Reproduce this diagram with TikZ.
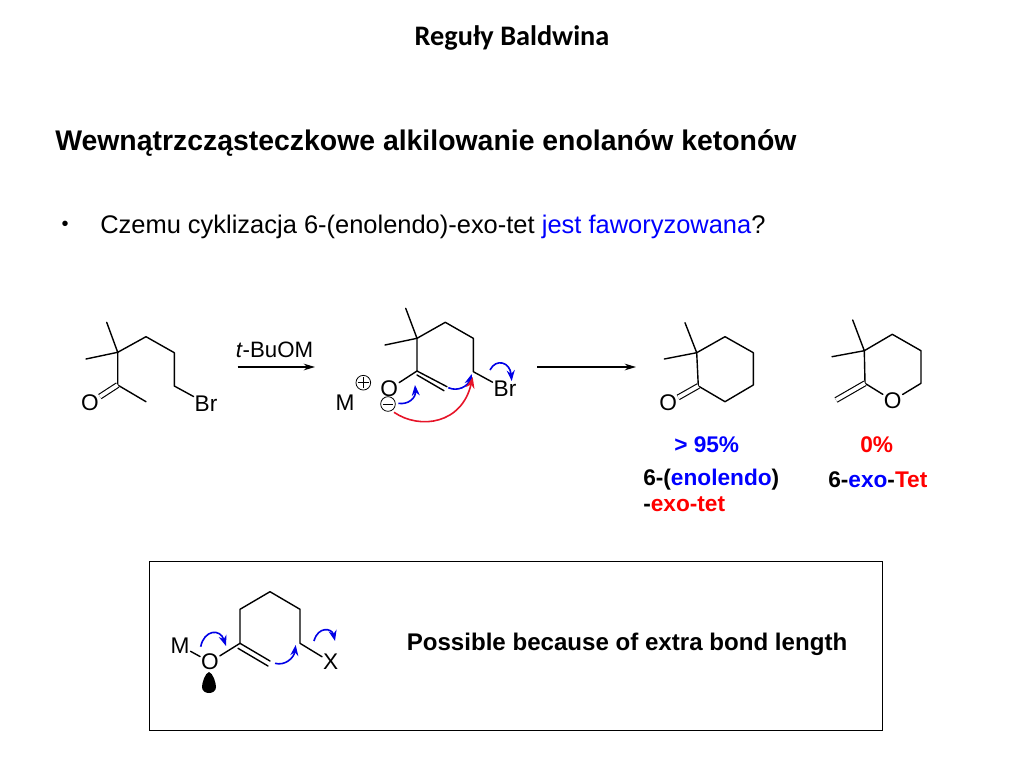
\documentclass[tikz,border=0pt]{standalone}
\usepackage{amsmath,amssymb}
\usepackage{fontspec}
\setmainfont{Liberation Sans}
\newfontfamily\titlefont{Carlito}
\usepackage{tikz}
\usetikzlibrary{arrows.meta}
\definecolor{arrowblue}{RGB}{0,0,230}
\definecolor{arrowred}{RGB}{230,20,40}
\tikzset{
  bond/.style={line width=1.05pt,line join=round,line cap=round},
  dblbond/.style={line width=0.85pt,double,double distance=2.8pt},
  atom/.style={inner sep=0.6pt,font=\fontsize{17}{18}\selectfont},
  rxn/.style={-{Stealth[length=8.5pt,width=5pt]},line width=0.85pt},
  push/.style={-{Stealth[length=8pt,width=6pt]},line width=1.2pt,arrowblue},
  pushred/.style={-{Stealth[length=8.5pt,width=6.5pt]},line width=1.2pt,arrowred},
  plain/.style={inner sep=0pt,font=\fontsize{19.1}{22}\selectfont},
  tag/.style={inner sep=0pt,anchor=west,font=\fontsize{17}{20}\selectfont\bfseries},
  charge/.style={circle,draw,line width=0.6pt,minimum size=11pt,inner sep=0pt},
  sign/.style={line width=0.7pt,shorten >=1.8pt,shorten <=1.8pt}
}
\begin{document}
\begin{tikzpicture}[x=0.75pt,y=-0.75pt]
\useasboundingbox (0,0) rectangle (1024,768);
% headings
\node[inner sep=0pt,font=\titlefont\fontsize{21.2}{24}\selectfont\bfseries] (title) at (512,37.6) {Reguły Baldwina};
\node[inner sep=0pt,anchor=west,font=\fontsize{21.3}{25}\selectfont\bfseries] (heading) at (55,143) {Wewnątrzcząsteczkowe alkilowanie enolanów ketonów};
\node[inner sep=0pt,font=\fontsize{15}{18}\selectfont] (dot) at (65,226) {•};
\node[plain,anchor=west] (question) at (100,227) {Czemu cyklizacja 6-(enolendo)-exo-tet \textcolor{blue}{jest faworyzowana}?};

% starting ketone
\coordinate (a1) at (106.7,322.3);
\coordinate (a2) at (117.7,352.3);
\coordinate (a3) at (86,359);
\coordinate (a4) at (146,336.7);
\coordinate (a5) at (174.3,352.7);
\coordinate (a6) at (174.3,386);
\coordinate (a7) at (117.7,385);
\coordinate (a8) at (146,401.7);
\node[atom] (aO) at (90,403) {O};
\node[atom] (aBr) at (206,403.3) {Br};
\draw[bond] (a1) -- (a2) -- (a3);
\draw[bond] (a2) -- (a4) -- (a5) -- (a6) -- (aBr);
\draw[bond] (a2) -- (a7) -- (a8);
\draw[dblbond] (a7) -- (aO);

% first arrow
\coordinate (r1) at (237.7,367);
\coordinate (r2) at (315,367);
\draw[rxn] (r1) -- (r2);
\node[inner sep=0.6pt,font=\fontsize{16.7}{18}\selectfont] (base) at (274.5,350) {\textit{t}-BuOM};

% enolate
\coordinate (b1) at (405.7,308.3);
\coordinate (b2) at (417,338.3);
\coordinate (b3) at (385,345);
\coordinate (b4) at (445.3,322.3);
\coordinate (b5) at (473.3,338.3);
\coordinate (b6) at (473.3,371.7);
\coordinate (b7) at (417,371);
\coordinate (b8) at (447,386.7);
\node[atom] (bO) at (389.3,389) {O};
\node[atom] (bBr) at (505,389) {Br};
\node[atom] (bM) at (345,402.3) {M};
\node[charge] (bplus) at (363.3,382.7) {};
\node[charge] (bminus) at (388,404) {};
\draw[sign] (bplus.west) -- (bplus.east);
\draw[sign] (bplus.north) -- (bplus.south);
\draw[sign] (bminus.west) -- (bminus.east);
\draw[bond] (b1) -- (b2) -- (b3);
\draw[bond] (b2) -- (b4) -- (b5) -- (b6) -- (bBr);
\draw[bond] (b2) -- (b7) -- (b8);
\draw[bond] ([shift={(0,4)}]b7) -- ([shift={(-3,4)}]b8);
\draw[bond] (bO) -- (b7);
\coordinate (p1) at (398.3,403.3);
\coordinate (p2) at (415,385);
\coordinate (p3) at (448.3,387.7);
\coordinate (p4) at (471.7,374);
\coordinate (p5) at (394,412.3);
\coordinate (p6) at (472.7,377);
\coordinate (p7) at (490,370);
\coordinate (p8) at (511.7,381);
\draw[push] (p1) .. controls (408,405) and (416,398) .. (p2);
\draw[push] (p3) .. controls (458,392) and (468,386) .. (p4);
\draw[pushred] (p5) .. controls (420,430) and (462,424) .. (p6);
\draw[push] (p7) .. controls (496,358) and (510,362) .. (p8);

% second arrow
\coordinate (r3) at (537,367);
\coordinate (r4) at (636,367);
\draw[rxn] (r3) -- (r4);

% cyclohexanone
\coordinate (c1) at (685,322.7);
\coordinate (c2) at (696.7,352.7);
\coordinate (c3) at (664.3,359);
\coordinate (c4) at (725,336.7);
\coordinate (c5) at (753.3,352.7);
\coordinate (c6) at (753.3,385);
\coordinate (c7) at (725,401.7);
\coordinate (c8) at (698.3,386);
\node[atom] (cO) at (668.3,403) {O};
\draw[bond] (c1) -- (c2) -- (c3);
\draw[bond] (c2) -- (c4) -- (c5) -- (c6) -- (c7) -- (c8) -- cycle;
\draw[dblbond] (c8) -- (cO);

% exo enol ether
\coordinate (d1) at (852.7,320);
\coordinate (d2) at (864.3,350.7);
\coordinate (d3) at (832,356.7);
\coordinate (d4) at (892.3,334.3);
\coordinate (d5) at (921,350.7);
\coordinate (d6) at (921,383.3);
\coordinate (d7) at (865,383.3);
\coordinate (d8) at (836,400);
\node[atom] (dO) at (892.7,400.5) {O};
\draw[bond] (d1) -- (d2) -- (d3);
\draw[bond] (d2) -- (d4) -- (d5) -- (d6) -- (dO) -- (d7) -- (d2);
\draw[dblbond] (d7) -- (d8);

% yields and names
\node[tag,anchor=center,text=blue] (yield1) at (706.7,445) {> 95\%};
\node[tag,anchor=center,text=red] (yield2) at (876.7,445) {0\%};
\node[tag] (name1) at (643,480) {6-(\textcolor{blue}{enolendo})};
\node[tag] (name2) at (643,504) {-\textcolor{red}{exo-tet}};
\node[tag] (name3) at (828,480) {6-\textcolor{blue}{exo}-\textcolor{red}{Tet}};

% box
\node[draw,line width=0.7pt,minimum width=550pt,minimum height=127pt,inner sep=0pt] (frame) at (516,645.8) {};
\node[inner sep=0pt,font=\fontsize{18.07}{22}\selectfont\bfseries] (note) at (627,644) {Possible because of extra bond length};
\coordinate (e1) at (240,643.3);
\coordinate (e2) at (240,609.3);
\coordinate (e3) at (270,591.7);
\coordinate (e4) at (300,609.3);
\coordinate (e5) at (300,643.3);
\coordinate (e6) at (270,661);
\node[atom] (eO) at (210,662) {O};
\node[atom] (eM) at (180,645.5) {M};
\node[atom] (eX) at (330.7,662) {X};
\draw[bond] (e6) -- (e1) -- (e2) -- (e3) -- (e4) -- (e5) -- (eX);
\draw[bond] ([shift={(-2,5)}]e1) -- ([shift={(-2,5)}]e6);
\draw[bond] (eO) -- (e1);
\draw[bond] (eM) -- (eO);
\coordinate (l1) at (209,672);
\fill (l1) .. controls (213,673) and (216,683) .. (216,687) .. controls (216,695) and (202,695) .. (202,687) .. controls (202,683) and (205,673) .. (l1) -- cycle;
\coordinate (q1) at (200.7,646.7);
\coordinate (q2) at (226,646);
\coordinate (q3) at (275,663.3);
\coordinate (q4) at (295.7,645);
\coordinate (q5) at (314,641);
\coordinate (q6) at (335,641);
\draw[push] (q1) .. controls (204,630) and (220,628) .. (q2);
\draw[push] (q3) .. controls (285,666) and (294,658) .. (q4);
\draw[push] (q5) .. controls (318,626) and (332,628) .. (q6);
\end{tikzpicture}
\end{document}
